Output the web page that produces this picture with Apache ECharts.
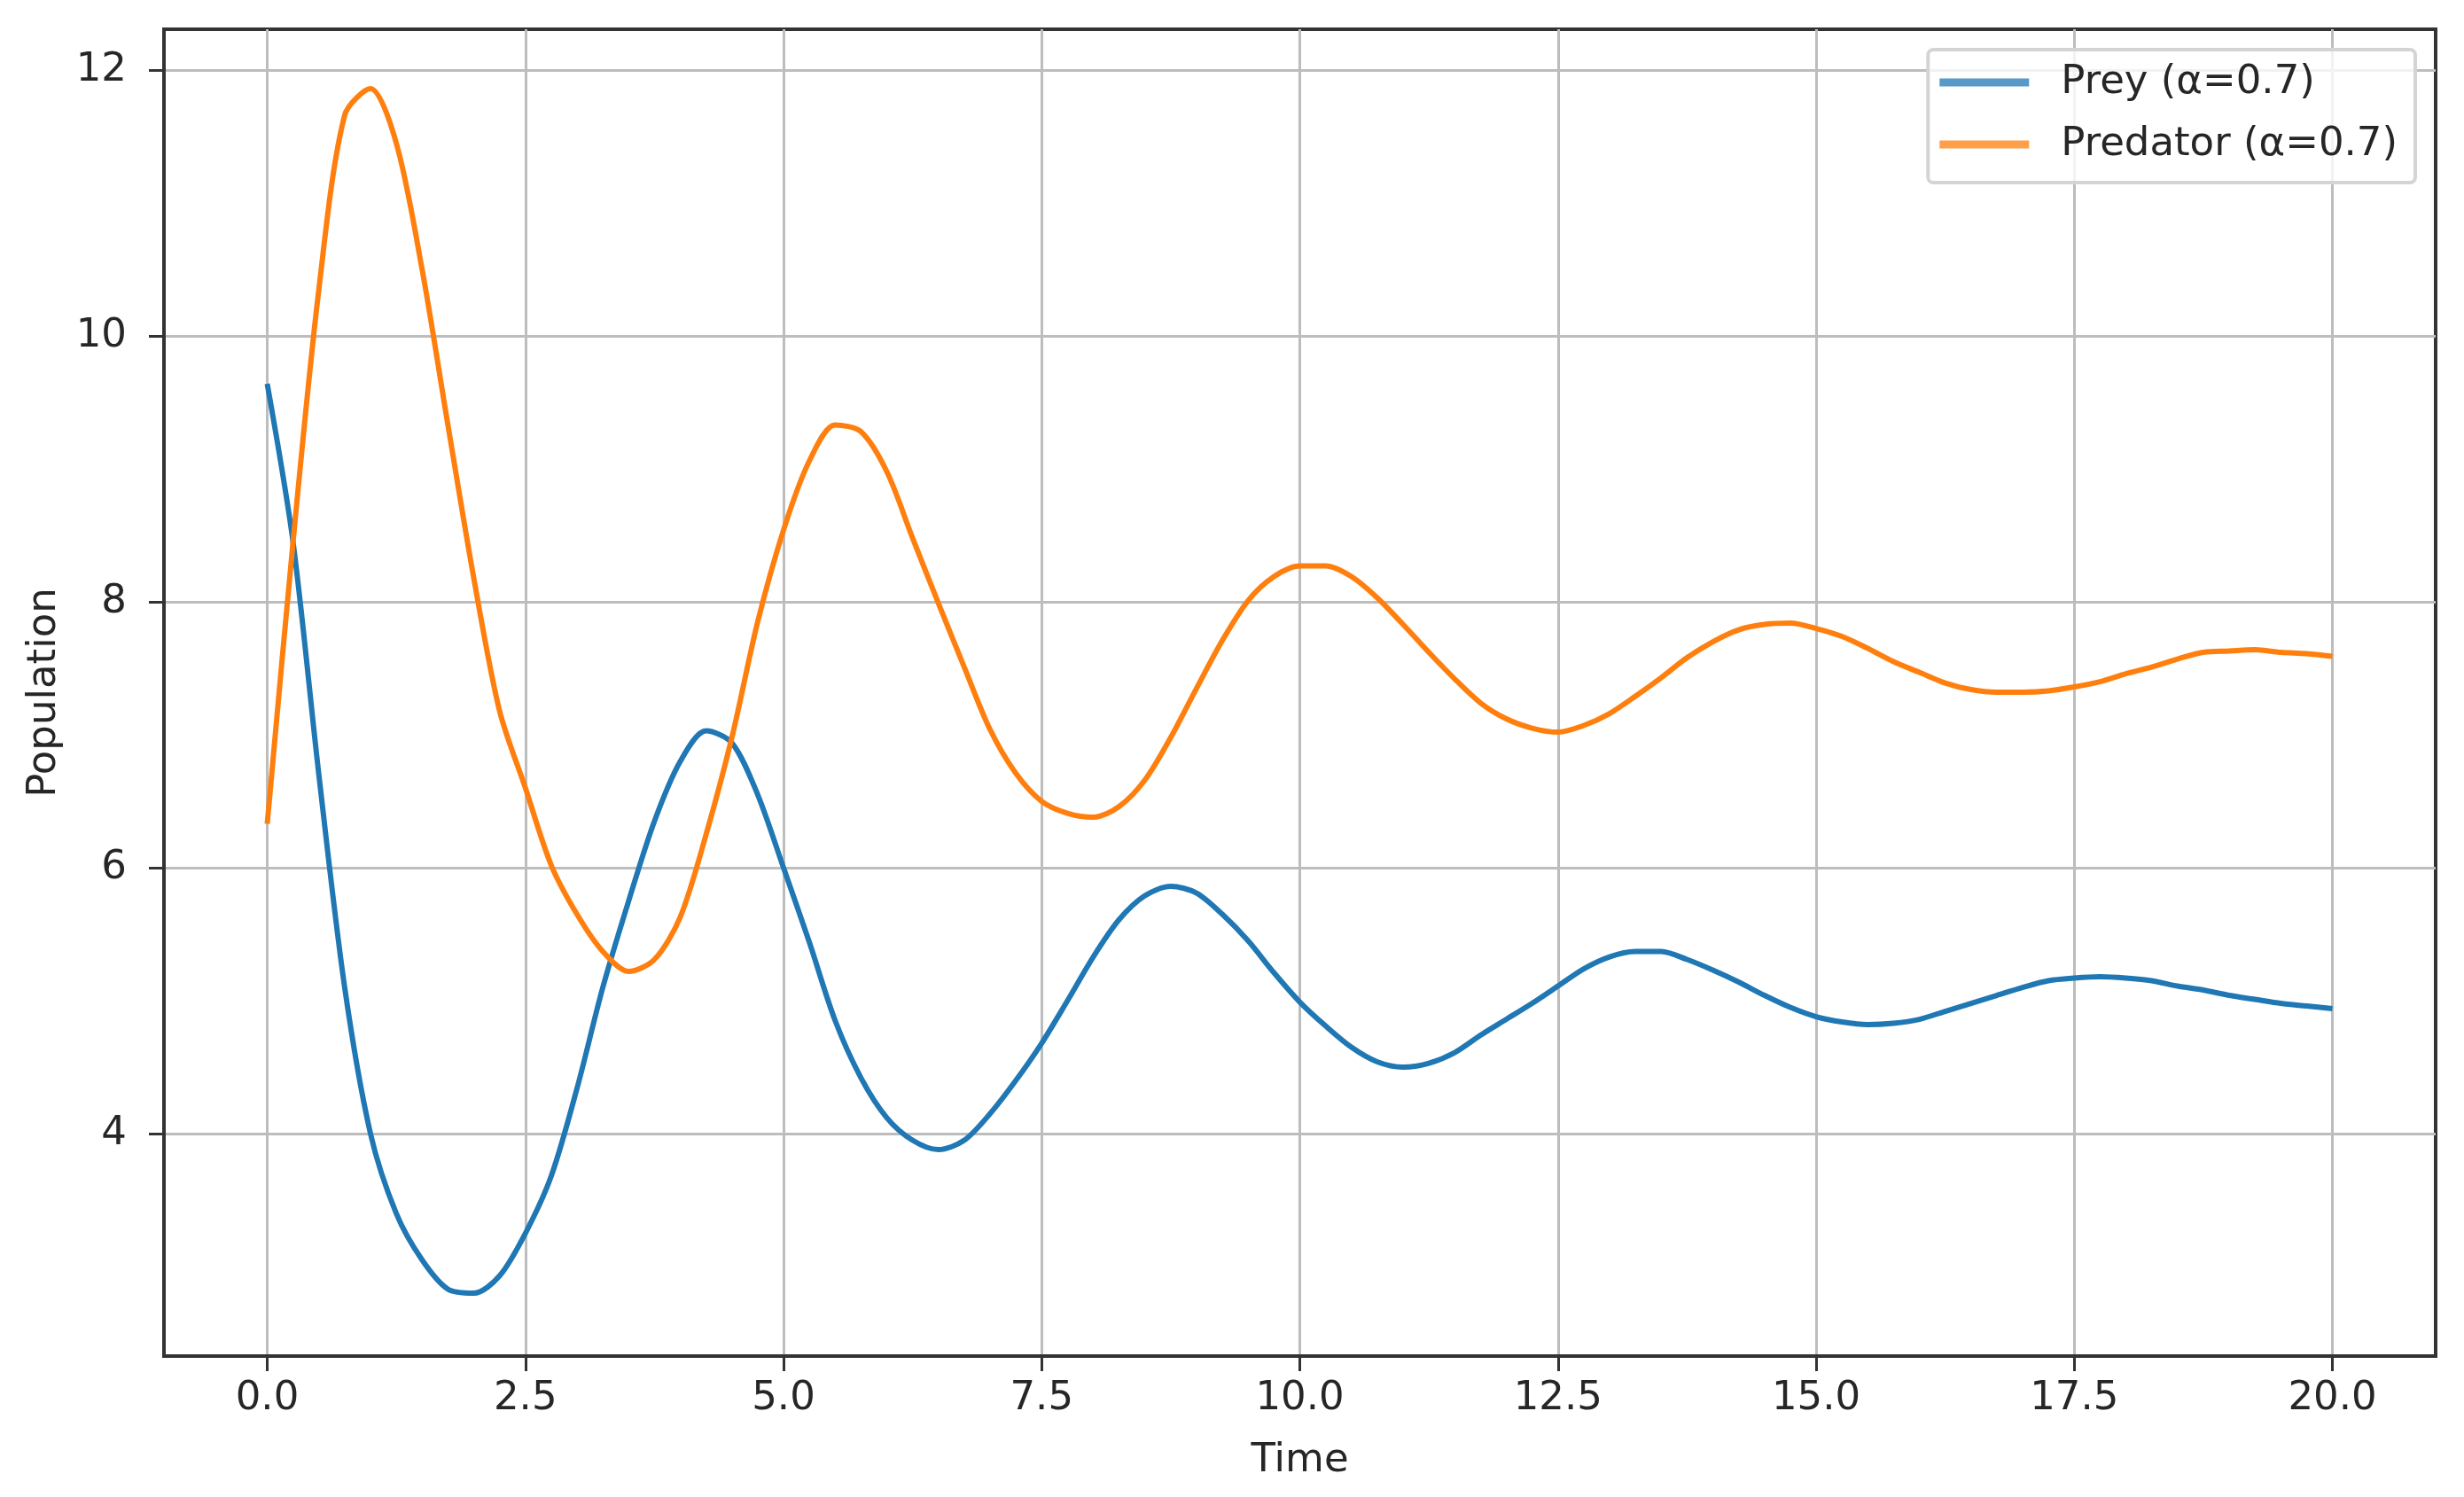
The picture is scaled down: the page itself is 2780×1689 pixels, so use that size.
<!DOCTYPE html>
<html>
<head>
<meta charset="utf-8">
<title>Prey / Predator</title>
<script src="https://cdn.jsdelivr.net/npm/echarts@6.0.0/dist/echarts.min.js"></script>
<style>
  html, body {margin: 0; padding: 0; background: #fff;}
  #chart {width: 2780px; height: 1689px;}
</style>
</head>
<body>
<div id="chart"></div>
<script>
  // time steps (0.25)
  var timeSteps = [
    0, 0.25, 0.5, 0.75, 1, 1.25, 1.5, 1.75, 2, 2.25, 2.5, 2.75, 3, 3.25, 3.5, 3.75,
    4, 4.25, 4.5, 4.75, 5, 5.25, 5.5, 5.75, 6, 6.25, 6.5, 6.75, 7, 7.25, 7.5, 7.75,
    8, 8.25, 8.5, 8.75, 9, 9.25, 9.5, 9.75, 10, 10.25, 10.5, 10.75, 11, 11.25, 11.5, 11.75,
    12, 12.25, 12.5, 12.75, 13, 13.25, 13.5, 13.75, 14, 14.25, 14.5, 14.75, 15, 15.25, 15.5, 15.75,
    16, 16.25, 16.5, 16.75, 17, 17.25, 17.5, 17.75, 18, 18.25, 18.5, 18.75, 19, 19.25, 19.5, 19.75, 20
  ];
  var prey = [
    9.64, 8.45, 6.7, 5.1, 4.0, 3.40, 3.05, 2.83, 2.80, 2.93, 3.25, 3.68, 4.34, 5.1, 5.75, 6.35,
    6.8, 7.03, 6.94, 6.55, 6.0, 5.44, 4.85, 4.42, 4.12, 3.95, 3.88, 3.95, 4.15, 4.40, 4.68, 5.0,
    5.33, 5.61, 5.79, 5.86, 5.81, 5.65, 5.45, 5.21, 4.99, 4.81, 4.65, 4.54, 4.50, 4.53, 4.61, 4.74,
    4.86, 4.98, 5.11, 5.24, 5.33, 5.37, 5.37, 5.31, 5.23, 5.14, 5.04, 4.95, 4.88, 4.84, 4.82, 4.83,
    4.86, 4.92, 4.98, 5.04, 5.10, 5.15, 5.17, 5.18, 5.17, 5.15, 5.11, 5.08, 5.04, 5.01, 4.98, 4.96, 4.94
  ];
  var predator = [
    6.33, 8.45, 10.35, 11.66, 11.86, 11.45, 10.5, 9.33, 8.18, 7.18, 6.6, 6.02, 5.65, 5.37, 5.22, 5.31,
    5.63, 6.25, 6.98, 7.85, 8.54, 9.06, 9.33, 9.28, 8.98, 8.48, 7.99, 7.51, 7.04, 6.71, 6.50, 6.41,
    6.38, 6.46, 6.66, 6.98, 7.35, 7.71, 8.01, 8.19, 8.27, 8.27, 8.19, 8.03, 7.83, 7.62, 7.42, 7.24,
    7.12, 7.05, 7.02, 7.07, 7.16, 7.29, 7.43, 7.58, 7.70, 7.79, 7.83, 7.84, 7.80, 7.74, 7.65, 7.55,
    7.47, 7.39, 7.34, 7.32, 7.32, 7.33, 7.36, 7.40, 7.46, 7.51, 7.57, 7.62, 7.63, 7.64, 7.62, 7.61, 7.59
  ];
  var xTicks = [0, 2.5, 5, 7.5, 10, 12.5, 15, 17.5, 20];
  var yTicks = [4, 6, 8, 10, 12];
  var seriesNames = ["Prey (\u03b1=0.7)", "Predator (\u03b1=0.7)"];

  var fontFamily = "DejaVu Sans", fontSize = 45, textColor = "#262626",
    spineColor = "#333333", gridColor = "#bdbdbd";

  function pairs(vals){
    return timeSteps.map(function(t, i){ return [t, vals[i]] });
  }

  function getOptions(){
    var labelStyle = {fontFamily: fontFamily, fontSize: fontSize, color: textColor};
    return {
      backgroundColor: "#fff",
      animation: false,
      color: ["#1f77b4", "#ff7f0e"],
      grid: {
        left: 185, right: 32, top: 33, bottom: 159,
        show: true, borderColor: spineColor, borderWidth: 4, backgroundColor: "transparent"
      },
      legend: {
        right: 55, top: 56,
        orient: "vertical",
        icon: "rect",
        itemWidth: 101, itemHeight: 9, itemGap: 20,
        padding: [12, 20, 18, 13],
        backgroundColor: "rgba(255,255,255,0.8)",
        borderColor: "#d4d4d4", borderWidth: 4, borderRadius: 6,
        itemStyle: {opacity: 0.75},
        textStyle: {fontFamily: fontFamily, fontSize: fontSize, color: textColor, lineHeight: 50, padding: [0, 0, 0, 31]},
        data: seriesNames
      },
      xAxis: {
        type: "value", min: -1, max: 21,
        name: "Time", nameLocation: "middle", nameGap: 96,
        nameTextStyle: labelStyle,
        axisLine: {show: true, onZero: false, lineStyle: {color: spineColor, width: 4}},
        axisTick: {show: true, length: 17, customValues: xTicks, lineStyle: {color: spineColor, width: 3}},
        axisLabel: {
          customValues: xTicks, margin: 26,
          fontFamily: fontFamily, fontSize: fontSize, color: textColor,
          formatter: function(v){ return (+v).toFixed(1) }
        },
        splitLine: {show: true, lineStyle: {color: gridColor, width: 3}}
      },
      yAxis: {
        type: "value", min: 2.327, max: 12.307,
        name: "Population", nameLocation: "middle", nameGap: 112,
        nameTextStyle: labelStyle,
        axisLine: {show: true, onZero: false, lineStyle: {color: spineColor, width: 4}},
        axisTick: {show: true, length: 17, customValues: yTicks, lineStyle: {color: spineColor, width: 3}},
        axisLabel: {
          customValues: yTicks, margin: 42,
          fontFamily: fontFamily, fontSize: fontSize, color: textColor,
          formatter: function(v){ return Math.round(v) + "" }
        },
        splitLine: {show: true, lineStyle: {color: gridColor, width: 3}}
      },
      series: [
        {
          name: seriesNames[0], type: "line", symbol: "none", smooth: 0.3,
          lineStyle: {width: 6}, data: pairs(prey)
        },
        {
          name: seriesNames[1], type: "line", symbol: "none", smooth: 0.3,
          lineStyle: {width: 6}, data: pairs(predator)
        }
      ]
    };
  }

  var chartDom = echarts.init(document.getElementById("chart"));
  chartDom.setOption(getOptions());
</script>
</body>
</html>
